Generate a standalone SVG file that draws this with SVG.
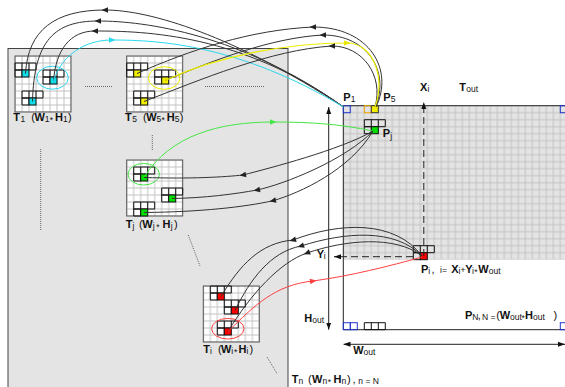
<svg xmlns="http://www.w3.org/2000/svg" width="565" height="387" viewBox="0 0 565 387">
<style>
.t{font-family:"Liberation Sans",Arial,sans-serif;fill:#111}
.b{font-size:11px;font-weight:bold}
.s{font-size:8.5px}
.n{font-size:11px}
.cn{fill:none;stroke:#333;stroke-width:1}
.cy{fill:none;stroke:#2ad8ee;stroke-width:1}
.ye{fill:none;stroke:#eeee00;stroke-width:1.2}
.gr{fill:none;stroke:#46e646;stroke-width:1}
.rd{fill:none;stroke:#ff4040;stroke-width:1}
.dot{fill:none;stroke:#666;stroke-dasharray:1 1}
.tb{fill:none;stroke:#555}
.px{stroke:#111;stroke-width:1}
.dash{fill:none;stroke:#222;stroke-dasharray:7 4}
.ax{fill:none;stroke:#222}
.bl{fill:none;stroke:#2038d0}
</style>
<defs>
<pattern id="tg" width="7" height="7" patternUnits="userSpaceOnUse"><rect width="7" height="7" fill="#fff"/><path d="M0 0V7M7 0V7M0 0H7M0 7H7" stroke="#c4c4c4" stroke-width="1" fill="none"/></pattern>
<pattern id="og" width="7" height="7" patternUnits="userSpaceOnUse"><rect width="7" height="7" fill="#e4e4e4"/><path d="M0 0V7M7 0V7M0 0H7M0 7H7" stroke="#c2c2c2" stroke-width="1" fill="none"/></pattern>
<g id="tp"><path d="M-7 -7h21v7h-21z M0 -7v7 M7 -7v7 M-7 0h7v7h-7z" fill="none" stroke="#111"/></g>
<path id="ah" d="M3.5 0L-3 -2.8L-3 2.8Z"/>
<marker id="arr" viewBox="0 0 7 6" refX="7" refY="3" markerWidth="7" markerHeight="6" markerUnits="userSpaceOnUse" orient="auto-start-reverse"><path d="M0 0.5L7 3L0 5.5Z" fill="#111"/></marker>
</defs>

<g id="panel"><rect x="8" y="48.5" width="280" height="345" fill="#e4e4e4" stroke="#444"/></g>

<g id="T1">
<g transform="translate(15,56)">
<rect width="56" height="56" fill="url(#tg)"/>
<rect width="56" height="56" class="tb"/>
<use href="#tp" x="7" y="14"/><rect x="7" y="14" width="7" height="7" fill="#10dde8" class="px"/>
<use href="#tp" x="35" y="21"/><rect x="35" y="21" width="7" height="7" fill="#10dde8" class="px"/>
<use href="#tp" x="14" y="42"/><rect x="14" y="42" width="7" height="7" fill="#10dde8" class="px"/>
<ellipse cx="37.5" cy="21.7" rx="15.8" ry="11.5" fill="none" stroke="#2ad8ee"/>
</g>
<text class="t"><tspan class="b" x="13.3" y="121">T</tspan><tspan class="s" x="20.5" y="122">1</tspan><tspan class="n" x="31.3" y="121">(</tspan><tspan class="b" x="34.5" y="121">W</tspan><tspan class="s" x="44.8" y="122">1</tspan><tspan class="s" x="49.8" y="123">*</tspan><tspan class="b" x="55" y="121">H</tspan><tspan class="s" x="63" y="122">1</tspan><tspan class="n" x="68" y="121">)</tspan></text>
</g>

<g id="T5">
<g transform="translate(126.7,56)">
<rect width="56" height="56" fill="url(#tg)"/>
<rect width="56" height="56" class="tb"/>
<use href="#tp" x="7" y="14"/><rect x="7" y="14" width="7" height="7" fill="#f2ee00" class="px"/>
<use href="#tp" x="35" y="21"/><rect x="35" y="21" width="7" height="7" fill="#f2ee00" class="px"/>
<use href="#tp" x="14" y="42"/><rect x="14" y="42" width="7" height="7" fill="#f2ee00" class="px"/>
<ellipse cx="37.5" cy="22" rx="15.8" ry="11.3" fill="none" stroke="#eeee00"/>
</g>
<text class="t"><tspan class="b" x="125" y="121">T</tspan><tspan class="s" x="132.2" y="122">5</tspan><tspan class="n" x="143" y="121">(</tspan><tspan class="b" x="146.2" y="121">W</tspan><tspan class="s" x="156.5" y="122">5</tspan><tspan class="s" x="161.5" y="123">*</tspan><tspan class="b" x="166.7" y="121">H</tspan><tspan class="s" x="174.7" y="122">5</tspan><tspan class="n" x="179.7" y="121">)</tspan></text>
</g>

<g id="Tj">
<g transform="translate(126.7,160)">
<rect width="56" height="56" fill="url(#tg)"/>
<rect width="56" height="56" class="tb"/>
<use href="#tp" x="14" y="14"/><rect x="14" y="14" width="7" height="7" fill="#00e000" class="px"/>
<use href="#tp" x="42" y="35"/><rect x="42" y="35" width="7" height="7" fill="#00e000" class="px"/>
<use href="#tp" x="14" y="49"/><rect x="14" y="49" width="7" height="7" fill="#00e000" class="px"/>
<ellipse cx="17" cy="14.2" rx="15.7" ry="10.8" fill="none" stroke="#46e646"/>
</g>
<text class="t"><tspan class="b" x="125.7" y="228">T</tspan><tspan class="s" x="132.5" y="229">j</tspan><tspan class="n" x="139" y="228">(</tspan><tspan class="b" x="142.3" y="228">W</tspan><tspan class="s" x="152.8" y="229">j</tspan><tspan class="s" x="156.3" y="230">*</tspan><tspan class="b" x="162.5" y="228">H</tspan><tspan class="s" x="170.7" y="229">j</tspan><tspan class="n" x="174" y="228">)</tspan></text>
</g>

<g id="Ti">
<g transform="translate(203.3,286)">
<rect width="56" height="56" fill="url(#tg)"/>
<rect width="56" height="56" class="tb"/>
<use href="#tp" x="14" y="7"/><rect x="14" y="7" width="7" height="7" fill="#ff0000" class="px"/>
<use href="#tp" x="28" y="21"/><rect x="28" y="21" width="7" height="7" fill="#ff0000" class="px"/>
<use href="#tp" x="21" y="42"/><rect x="21" y="42" width="7" height="7" fill="#ff0000" class="px"/>
<ellipse cx="24.5" cy="42.7" rx="16.2" ry="10.3" fill="none" stroke="#ff4040"/>
</g>
<text class="t"><tspan class="b" x="203.3" y="353">T</tspan><tspan class="s" x="210" y="354">i</tspan><tspan class="n" x="218" y="353">(</tspan><tspan class="b" x="221" y="353">W</tspan><tspan class="s" x="231.3" y="354">i</tspan><tspan class="s" x="234" y="355">*</tspan><tspan class="b" x="238.5" y="353">H</tspan><tspan class="s" x="246.5" y="354">i</tspan><tspan class="n" x="249.5" y="353">)</tspan></text>
</g>

<g id="Tn">
<text class="t"><tspan class="b" x="291.7" y="383">T</tspan><tspan class="s" x="298.4" y="384">n</tspan><tspan class="n" x="308" y="383">(</tspan><tspan class="b" x="312" y="383">W</tspan><tspan class="s" x="322.5" y="384">n</tspan><tspan class="s" x="327.8" y="385">*</tspan><tspan class="b" x="333.5" y="383">H</tspan><tspan class="s" x="341.5" y="384">n</tspan><tspan class="n" x="347" y="383">)</tspan><tspan class="n" x="352.5" y="383">,</tspan><tspan class="s" x="358.3" y="384">n = N</tspan></text>
</g>

<g id="Tout">
<g transform="translate(343.3,105.7)">
<rect width="221.7" height="154" fill="url(#og)"/>
<path d="M221.7 0H0V224H221.7" fill="none" stroke="#222"/>
<rect x="0" y="0" width="7" height="7" fill="#10dde8" class="bl"/>
<rect x="21" y="0" width="7" height="7" fill="none" stroke="#f0a800"/>
<rect x="28" y="0" width="7" height="7" fill="#f2ee00" stroke="#333"/>
<rect x="217" y="0" width="7" height="7" class="bl"/>
<use href="#tp" x="28" y="21"/><rect x="28" y="21" width="7" height="7" fill="#00e000" class="px"/>
<use href="#tp" x="77" y="147"/><rect x="77" y="147" width="7" height="7" fill="#ff0000" class="px"/>
<rect x="0" y="217" width="7" height="7" class="bl"/>
<rect x="7" y="217" width="7" height="7" class="bl"/>
<path d="M21 217h21v7h-21z M28 217v7 M35 217v7" fill="none" stroke="#111"/>
<rect x="217" y="217" width="7" height="7" class="bl"/>
</g>
<text class="t"><tspan class="b" x="459.3" y="90.5">T</tspan><tspan class="s" x="466.2" y="91.5">out</tspan></text>
<text class="t"><tspan class="b" x="343.3" y="101">P</tspan><tspan class="s" x="350.8" y="102">1</tspan></text>
<text class="t"><tspan class="b" x="383.3" y="101">P</tspan><tspan class="s" x="390.8" y="102">5</tspan></text>
<text class="t"><tspan class="b" x="382.7" y="137">P</tspan><tspan class="s" x="390.3" y="139">j</tspan></text>
<text class="t"><tspan class="b" x="421" y="273">P</tspan><tspan class="s" x="428.3" y="274">i</tspan><tspan class="n" x="431.5" y="273">,</tspan><tspan class="s" x="440" y="273">i=</tspan><tspan class="b" x="451.3" y="273">X</tspan><tspan class="s" x="458.6" y="274">i</tspan><tspan class="s" x="460.4" y="273">+</tspan><tspan class="b" x="465.3" y="273">Y</tspan><tspan class="s" x="472" y="274">i</tspan><tspan class="s" x="474.3" y="275">*</tspan><tspan class="b" x="478.3" y="273">W</tspan><tspan class="s" x="488.8" y="274">out</tspan></text>
<text class="t"><tspan class="b" x="465" y="319">P</tspan><tspan class="s" x="472.2" y="320">N</tspan><tspan class="n" x="477.8" y="319">,</tspan><tspan class="s" x="482" y="320">N =</tspan><tspan class="n" x="496.3" y="319">(</tspan><tspan class="b" x="499.8" y="319">W</tspan><tspan class="s" x="510" y="320">out</tspan><tspan class="s" x="521.5" y="321">*</tspan><tspan class="b" x="525" y="319">H</tspan><tspan class="s" x="533" y="320">out</tspan><tspan class="n" x="553.5" y="319">)</tspan></text>
</g>

<g id="axes">
<path class="dash" d="M423.8 256V102" marker-end="url(#arr)"/>
<path class="dash" d="M413 256.7H334" marker-end="url(#arr)"/>
<path class="ax" d="M328.7 107V329.7" marker-start="url(#arr)" marker-end="url(#arr)"/>
<path class="ax" d="M343.5 344.3H565" marker-start="url(#arr)" marker-end="url(#arr)"/>
<text class="t"><tspan class="b" x="420" y="90.5">X</tspan><tspan class="s" x="427.5" y="91.5">i</tspan></text>
<text class="t"><tspan class="b" x="316.7" y="258">Y</tspan><tspan class="s" x="323.8" y="259">i</tspan></text>
<text class="t"><tspan class="b" x="304.3" y="321.7">H</tspan><tspan class="s" x="312.3" y="322.7">out</tspan></text>
<text class="t"><tspan class="b" x="353.3" y="354">W</tspan><tspan class="s" x="363.6" y="355">out</tspan></text>
</g>

<g id="dots">
<path class="dot" d="M85 86.5H112M205 86.5H265M40.7 149V230M152.3 135V150M188.3 235L200 266M267 357L277.3 374"/>
</g>

<g id="connectors">
<path class="cn" d="M25.5 73.5C28 30 55 10 105 10C150 10 234 35.5 343.5 107"/>
<path class="cn" d="M32.5 101.5C34 40 55 21 98 21C145 21 241 34 343.5 107"/>
<path class="cn" d="M53.5 80.5C56 50 70 31 95 31C145 31 242 34 343.5 107"/>
<path class="cy" d="M53.5 80.5C62 55 85 40 112 40C160 40 240 45 343.5 107"/>
<path class="cn" d="M137 73.5C190 50 250 30 313 27C370 27 394 70 376 107"/>
<path class="cn" d="M165 80.5C215 60 270 38 323 35C368 35 390 72 375.5 107"/>
<path class="cn" d="M144 101.5C200 80 270 50 332 46C362 46 384 75 375 107"/>
<path class="ye" d="M165 80.5C220 55 290 43 347 43C372 43 386 75 375 107"/>
<path class="gr" d="M144 177.5C170 135 220 122 273 122C310 122 340 124 373 131"/>
<path class="cn" d="M144 177.5C190 179 225 177 243 175C270 168 340 150 373 131"/>
<path class="cn" d="M172 198.5C205 198 235 194 257 190C285 184 345 160 373 131"/>
<path class="cn" d="M144 212.5C200 212 245 207 273 200.7C300 193 350 170 373 131"/>
<path class="cn" d="M221 296.5C240 265 260 243 293 240C340 222 395 220 422 256"/>
<path class="cn" d="M235 310.5C250 280 270 252 301 246C345 232 395 228 422 256"/>
<path class="cn" d="M228 331.5C250 295 280 262 307 253C345 240 395 235 422 256"/>
<path class="rd" d="M228 331.5C255 305 275 285 313 281C350 276 390 266 422 257"/>
<use href="#ah" transform="translate(105 10) rotate(180)" fill="#222"/>
<use href="#ah" transform="translate(98 21) rotate(180)" fill="#222"/>
<use href="#ah" transform="translate(95 31) rotate(180)" fill="#222"/>
<use href="#ah" transform="translate(112 40)" fill="#2ad8ee"/>
<use href="#ah" transform="translate(313 27) rotate(180)" fill="#222"/>
<use href="#ah" transform="translate(323 35) rotate(180)" fill="#222"/>
<use href="#ah" transform="translate(332 46) rotate(180)" fill="#222"/>
<use href="#ah" transform="translate(347 43)" fill="#e6e600"/>
<use href="#ah" transform="translate(273 122)" fill="#46e646"/>
<use href="#ah" transform="translate(243 175) rotate(170)" fill="#222"/>
<use href="#ah" transform="translate(257 190) rotate(169)" fill="#222"/>
<use href="#ah" transform="translate(273 200.7) rotate(166)" fill="#222"/>
<use href="#ah" transform="translate(293 240) rotate(165)" fill="#222"/>
<use href="#ah" transform="translate(301 246) rotate(162)" fill="#222"/>
<use href="#ah" transform="translate(307 253) rotate(160)" fill="#222"/>
<use href="#ah" transform="translate(313 281) rotate(-8)" fill="#ff4040"/>
</g>
</svg>
